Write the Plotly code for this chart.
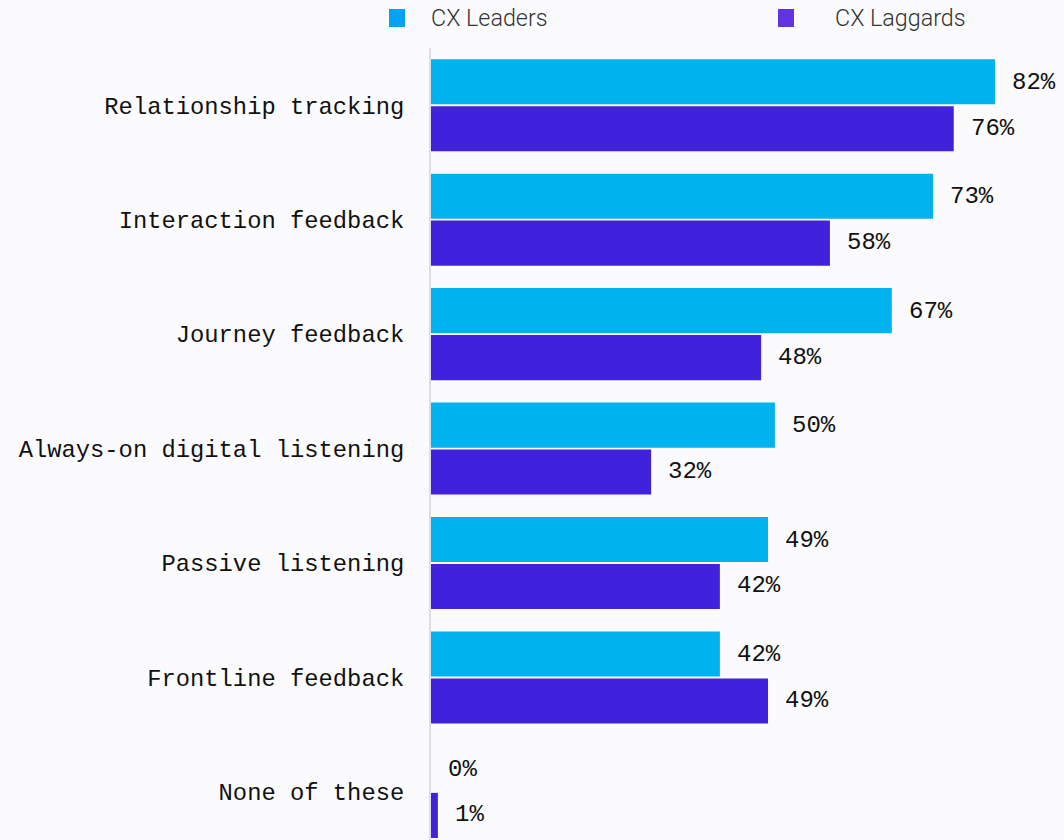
import plotly.graph_objects as go

# Data
categories = [
    "Relationship tracking",
    "Interaction feedback",
    "Journey feedback",
    "Always-on digital listening",
    "Passive listening",
    "Frontline feedback",
    "None of these",
]
leaders = [82, 73, 67, 50, 49, 42, 0]
laggards = [76, 58, 48, 32, 42, 49, 1]
series_names = ["CX Leaders", "CX Laggards"]

# Styling
W, H = 1064, 840
M_L, M_R, M_T, M_B = 431, 0, 48, 0
BG = "#fbfbfd"
BAR_COLORS = ["#00b2ee", "#4021dc"]
SWATCH_COLORS = ["#02a3f3", "#6233e2"]
MONO = "Liberation Mono"

plot_w = W - M_L - M_R
plot_h = H - M_T - M_B


def px_x(p):
    return (p - M_L) / plot_w


def px_y(p):
    return (H - M_B - p) / plot_h


fig = go.Figure()
for name, vals, color in zip(series_names, [leaders, laggards], BAR_COLORS):
    fig.add_trace(go.Bar(
        y=categories, x=vals, name=name, orientation="h",
        marker=dict(color=color, line=dict(width=0)),
        showlegend=False, hoverinfo="skip",
    ))

# Value labels beside each bar
for i, cat in enumerate(categories):
    for k, vals in enumerate([leaders, laggards]):
        fig.add_annotation(
            x=vals[i], y=i + (-0.2 if k == 0 else 0.2),
            xref="x", yref="y",
            text=f"{vals[i]}%", showarrow=False,
            xanchor="left", yanchor="middle", xshift=15,
            font=dict(family=MONO, size=24, color="#111111"),
        )

# Legend drawn above the plot
legend_items = [(389, 429, series_names[0], SWATCH_COLORS[0]),
                (778, 833, series_names[1], SWATCH_COLORS[1])]
for sx, tx, label, color in legend_items:
    fig.add_shape(
        type="rect", xref="paper", yref="paper",
        x0=px_x(sx), x1=px_x(sx + 16), y0=px_y(27), y1=px_y(9),
        fillcolor=color, line=dict(width=0),
    )
    fig.add_annotation(
        x=px_x(tx), y=px_y(18), xref="paper", yref="paper",
        text=label, showarrow=False, xanchor="left", yanchor="middle",
        font=dict(family="Roboto", size=23.3, color="#333333", weight=300),
    )

fig.update_layout(
    width=W, height=H,
    margin=dict(l=M_L, r=M_R, t=M_T, b=M_B, pad=0),
    paper_bgcolor=BG, plot_bgcolor=BG,
    barmode="group", bargap=0.179, bargroupgap=0.04,
    showlegend=False,
)
fig.update_xaxes(range=[0, plot_w / 6.878], visible=False)
fig.update_yaxes(
    type="category", categoryorder="array", categoryarray=categories,
    range=[6.42, -0.5],
    showline=True, linecolor="#dedede", linewidth=2,
    showgrid=False, zeroline=False, ticks="",
    ticklabelstandoff=20,
    tickfont=dict(family=MONO, size=23.8, color="#111111"),
)

fig.write_html("out.html", config={"displayModeBar": False})
